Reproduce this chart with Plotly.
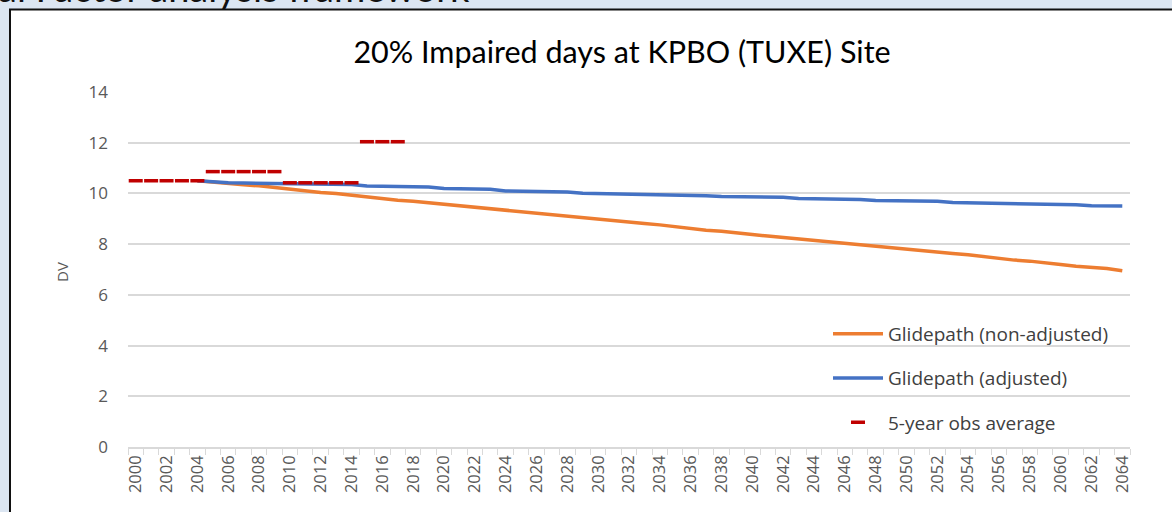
import plotly.graph_objects as go

# ---------------- data ----------------
years = list(range(2000, 2065))
tick_labels = [str(y) if y % 2 == 0 else "" for y in years]

glide_years = list(range(2004, 2065))
glide_nonadjusted = [
    10.50, 10.44, 10.38, 10.34, 10.30, 10.23, 10.15, 10.09, 10.04, 10.00,
    9.93, 9.85, 9.79, 9.73, 9.69, 9.63, 9.56, 9.50, 9.44, 9.40,
    9.34, 9.26, 9.20, 9.14, 9.10, 9.05, 8.97, 8.91, 8.85, 8.81,
    8.76, 8.68, 8.61, 8.55, 8.51, 8.46, 8.38, 8.32, 8.26, 8.22,
    8.17, 8.09, 8.02, 7.96, 7.92, 7.87, 7.79, 7.73, 7.67, 7.63,
    7.58, 7.50, 7.43, 7.37, 7.33, 7.28, 7.20, 7.13, 7.09, 7.04,
    6.95,
]
glide_adjusted = [
    10.50, 10.45, 10.42, 10.41, 10.40, 10.40, 10.39, 10.38, 10.37, 10.36,
    10.35, 10.29, 10.28, 10.28, 10.27, 10.25, 10.19, 10.18, 10.18, 10.16,
    10.10, 10.09, 10.09, 10.08, 10.06, 10.01, 10.00, 10.00, 9.99, 9.98,
    9.94, 9.93, 9.93, 9.91, 9.88, 9.87, 9.87, 9.86, 9.85, 9.80,
    9.79, 9.79, 9.78, 9.76, 9.72, 9.71, 9.71, 9.70, 9.69, 9.64,
    9.63, 9.63, 9.62, 9.58, 9.57, 9.57, 9.56, 9.55, 9.51, 9.50,
    9.50,
]
obs_years = [2000, 2001, 2002, 2003, 2004,
             2005, 2006, 2007, 2008, 2009,
             2010, 2011, 2012, 2013, 2014,
             2015, 2016, 2017]
obs_avg = [10.50, 10.50, 10.50, 10.50, 10.50,
           10.86, 10.86, 10.86, 10.86, 10.86,
           10.42, 10.42, 10.42, 10.42, 10.42,
           12.04, 12.04, 12.04]

y_ticks = [0, 2, 4, 6, 8, 10, 12, 14]

# ---------------- geometry helpers ----------------
W, H = 1172, 512
L, R, T, B = 128, 42, 92, 65
PW, PH = W - L - R, H - T - B


def px_x(px):
    return (px - L) / PW


def px_y(py):
    return (H - B - py) / PH


GRID = "#d9d9d9"
TXT = "#595959"
FONT = "Open Sans"

fig = go.Figure()
fig.add_trace(go.Scatter(
    x=glide_years, y=glide_nonadjusted, mode="lines",
    name="Glidepath (non-adjusted)", legendgroup="a",
    line=dict(color="#ed7d31", width=3.5),
))
fig.add_trace(go.Scatter(
    x=glide_years, y=glide_adjusted, mode="lines",
    name="Glidepath (adjusted)", legendgroup="b",
    line=dict(color="#4472c4", width=3.5),
))
fig.add_trace(go.Scatter(
    x=obs_years, y=obs_avg, mode="markers",
    name="5-year obs average", legendgroup="c",
    marker=dict(symbol="line-ew", size=10, color="#c00000",
                line=dict(color="#c00000", width=3.5)),
))

fig.update_layout(
    width=W, height=H,
    margin=dict(l=L, r=R, t=T, b=B),
    paper_bgcolor="#dce6f2",
    plot_bgcolor="rgba(0,0,0,0)",
    font=dict(family=FONT, color=TXT),
    title=dict(
        text="20% Impaired days at KPBO (TUXE) Site",
        font=dict(family="Lato", size=30.5, color="#000000"),
        xref="paper", x=px_x(622), xanchor="center",
        yref="container", y=1 - 52 / H, yanchor="middle",
    ),
    showlegend=True,
    legend=dict(
        x=px_x(828), xanchor="left",
        y=px_y(315), yanchor="top",
        bgcolor="rgba(0,0,0,0)",
        font=dict(family=FONT, size=19, color="#404040"),
        tracegroupgap=16.5,
        itemwidth=50,
    ),
    xaxis=dict(
        range=[1999.5, 2064.5],
        tickmode="array", tickvals=years, ticktext=tick_labels,
        tickangle=-90, ticks="",
        tickfont=dict(size=16.5, color=TXT),
        showgrid=False, zeroline=False,
        showline=True, linecolor=GRID, linewidth=1.5,
        minor=dict(tick0=1999.5, dtick=1, ticks="outside", ticklen=6,
                   tickcolor=GRID, tickwidth=1, showgrid=False),
        fixedrange=True,
    ),
    yaxis=dict(
        range=[0, 14], tickvals=y_ticks,
        showgrid=True, gridcolor=GRID, gridwidth=1.5,
        zeroline=False, showline=False, ticks="",
        tickfont=dict(size=17, color=TXT),
        ticklabelstandoff=19,
        fixedrange=True,
    ),
    shapes=[
        dict(type="rect", xref="paper", yref="paper", layer="below",
             x0=px_x(10), x1=px_x(1240), y0=px_y(9.5), y1=px_y(600),
             fillcolor="#ffffff", line=dict(color="#111111", width=2)),
    ],
    annotations=[
        dict(text="DV", xref="paper", yref="paper",
             x=px_x(62), y=px_y(272), xanchor="center", yanchor="middle",
             textangle=-90, showarrow=False,
             font=dict(family=FONT, size=15, color=TXT)),
        dict(text="al Factor analysis framework", xref="paper", yref="paper",
             x=px_x(-4), y=px_y(12), xanchor="left", yanchor="bottom",
             showarrow=False,
             font=dict(family="Lato", size=38, color="#111111")),
    ],
)

fig.write_html("out.html",
               config={"displayModeBar": False},
               post_script="document.body.style.margin='0px';document.body.style.overflow='hidden';")
